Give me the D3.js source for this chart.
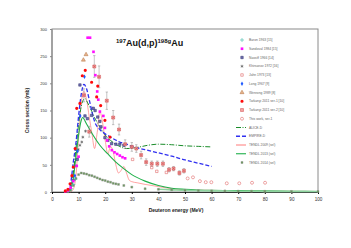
<!DOCTYPE html>
<html>
<head>
<meta charset="utf-8">
<script src="https://cdn.jsdelivr.net/npm/d3@7"></script>
<style>
  html, body { margin: 0; padding: 0; background: #fff; }
  svg { display: block; font-family: Arial, "Liberation Sans", sans-serif; }
</style>
</head>
<body>
<div id="chart"></div>
<script>
// experimental data [energy MeV, cross section mb]
const baron = [[7.2, 6], [8.0, 14], [8.8, 24]];
const sandoval = [[5, 1], [6, 3], [7, 8], [8, 20], [9.3, 48], [10, 65], [13.4, 284], [14.3, 284], [15.6, 258],
  [16.3, 215], [17.0, 185], [17.4, 170], [18.0, 148], [19.3, 140], [19.9, 118], [20.7, 95], [21.5, 84],
  [22.5, 77], [23.5, 73], [24.5, 70], [25.5, 67], [26.5, 64], [27.5, 62]];
const nassiff = [[9.5, 60], [10.5, 197], [12.4, 140], [13.3, 135], [14.9, 141], [15.5, 154], [16.2, 150],
  [17.2, 138], [18.0, 130], [18.4, 120], [19.9, 100], [21.0, 95], [22.4, 89], [24.0, 88], [25.5, 88],
  [27.0, 86], [30.0, 83]];
const khirsanov = [[8.2, 22], [9.0, 48], [9.9, 78], [10.5, 86], [11.2, 92], [11.6, 101], [12.6, 112]];
const jahn = [[30.3, 60], [37.5, 45], [39.4, 38], [43.0, 36]];
const longData = [[8.6, 30], [9.6, 75], [10.6, 140], [12.2, 212]];
const wenrong = [[11.8, 243], [12.8, 253]];
const tarkanyi1 = [[5, 2], [6, 5], [6.8, 15], [7.5, 30], [8.0, 46], [8.7, 80], [9.3, 154], [10.5, 163],
  [11.4, 214], [12.5, 224], [14.9, 202], [16.8, 175], [17.2, 195], [18.3, 159], [19.9, 132], [21.8, 101]];
const tarkanyi2 = [[12.0, 178], [14.0, 111], [15.9, 231], [17.7, 212], [20.6, 168], [23.0, 137], [25.2, 115],
  [27.5, 88], [30.0, 83], [31.7, 80], [33.5, 68], [35.4, 55], [37.5, 52], [39.6, 52], [41.7, 52],
  [44.0, 41], [45.7, 43], [47.9, 35], [49.6, 39]];
const tarkanyi2Err = [12, 10, 20, 20, 16, 13, 10, 8, 8, 7, 7, 6, 5, 5, 5, 4, 4, 4, 4];
const thisWork = [[51.0, 25], [53.0, 27], [55.6, 20], [57.8, 18], [59.9, 18], [65.7, 16], [70.4, 16],
  [75.2, 17], [80.1, 17]];

// model curves
const alice = [[6, 0], [7, 8], [8, 35], [9, 80], [10, 125], [11, 158], [12, 171], [12.5, 172], [13, 168],
  [14, 158], [15, 148], [16, 137], [18, 120], [20, 105], [22, 95], [25, 85], [28, 80], [32, 82],
  [36, 86], [40, 88], [45, 87], [50, 85], [55, 84], [60, 83]];
const empire = [[6, 0], [7, 15], [8, 55], [9, 90], [10, 140], [11, 180], [12, 198], [13, 190], [14, 170],
  [15, 148], [16, 130], [18, 115], [20, 107], [22, 101], [25, 93], [28, 88], [30, 84], [35, 78],
  [40, 72], [45, 66], [50, 59], [55, 53], [60, 47]];
const tendl2009 = [[7, 0], [8, 5], [9, 30], [10, 100], [11, 165], [12, 185], [13, 170], [14, 138], [15, 108],
  [16, 80], [17, 110], [18, 148], [19, 128], [20, 95], [21, 70], [22, 84], [23, 74], [24, 50], [25, 35],
  [26, 40], [27, 47], [28, 35], [29, 22], [30, 19], [32, 17], [35, 14], [40, 10], [45, 6], [50, 4],
  [60, 3], [70, 2], [80, 1.5], [100, 1]];
const tendl2013 = [[6, 0], [7, 5], [8, 25], [9, 65], [10, 105], [11, 132], [11.5, 137], [13, 125], [15, 108],
  [18, 86], [21, 70], [24, 55], [27, 43], [30, 32], [35, 20], [40, 12], [45, 7], [50, 5], [60, 3],
  [70, 2.5], [80, 2], [90, 1.5], [100, 1]];
const tendl2014 = [[6, 0.5], [7, 3], [8, 12], [9, 25], [10, 32], [11, 35], [12, 34], [13, 33], [14, 31],
  [15, 30], [16, 28], [17, 26], [18, 24], [19, 22], [20, 21], [21, 19], [22, 18], [23, 16], [24, 15],
  [25, 14], [27, 12], [30, 9], [35, 6], [40, 5], [45, 4], [50, 3], [55, 2.5], [60, 2], [65, 2],
  [70, 1.5], [75, 1.5], [80, 1.2], [90, 1], [100, 0.8]];

const xTicks = [0, 10, 20, 30, 40, 50, 60, 70, 80, 90, 100];
const yTicks = [0, 50, 100, 150, 200, 250, 300];

const legendLabels = ['Baron 1963 [15]', 'Sandoval 1984 [15]', 'Nassiff 1966 [14]', 'Khirsanov 1972 [16]',
  'Jahn 1973 [13]', 'Long 1967 [9]', 'Wenrong 1989 [8]', 'Tarkanyi 2011 ser-1 [10]',
  'Tarkanyi 2011 ser-2 [10]', 'This work, ser-1', 'ALICE-D', 'EMPIRE-D', 'TENDL 2009 (sel)',
  'TENDL 2013 (sel)', 'TENDL 2014 (sel)'];

const width = 351, height = 248;
const margin = { left: 52, right: 33, top: 29, bottom: 56 };

const svg = d3.select('#chart').append('svg')
  .attr('width', width)
  .attr('height', height);

const x = d3.scaleLinear().domain([0, 100]).range([margin.left, width - margin.right]);
const y = d3.scaleLinear().domain([0, 300]).range([height - margin.bottom, margin.top]);

// frame
svg.append('rect')
  .attr('x', x(0)).attr('y', y(300))
  .attr('width', x(100) - x(0)).attr('height', y(0) - y(300))
  .attr('fill', 'none').attr('stroke', '#8a8a8a').attr('stroke-width', 1);
svg.append('line')
  .attr('x1', x(0)).attr('x2', x(0)).attr('y1', y(300)).attr('y2', y(0))
  .attr('stroke', '#9a9a9a').attr('stroke-width', 1.6);

// axes
const xAxis = svg.append('g')
  .attr('transform', `translate(0,${y(0)})`)
  .call(d3.axisBottom(x).tickValues(xTicks).tickSize(2).tickPadding(4));
xAxis.select('.domain').attr('stroke', '#333').attr('stroke-width', 1);
xAxis.selectAll('text').attr('font-size', '4.6px').attr('fill', '#333');

const yAxis = svg.append('g')
  .attr('transform', `translate(${x(0)},0)`)
  .call(d3.axisLeft(y).tickValues(yTicks).tickSize(2).tickPadding(3));
yAxis.select('.domain').remove();
yAxis.selectAll('line').attr('stroke', '#888');
yAxis.selectAll('text').attr('font-size', '4px').attr('fill', '#333');

// axis titles
svg.append('text')
  .attr('x', 176).attr('y', 212)
  .attr('text-anchor', 'middle')
  .attr('font-size', '5px').attr('font-weight', 'bold').attr('fill', '#222')
  .text('Deuteron energy (MeV)');
svg.append('text')
  .attr('transform', `translate(29,${(y(0) + y(300)) / 2}) rotate(-90)`)
  .attr('text-anchor', 'middle')
  .attr('font-size', '5px').attr('font-weight', 'bold').attr('fill', '#222')
  .text('Cross section (mb)');

// title
const title = svg.append('text')
  .attr('x', 116).attr('y', 46)
  .attr('font-size', '9px').attr('font-weight', 'bold').attr('fill', '#111');
title.append('tspan').attr('font-size', '6px').attr('dy', -3.5).text('197');
title.append('tspan').attr('dy', 3.5).text('Au(d,p)');
title.append('tspan').attr('font-size', '6px').attr('dy', -3.5).text('198g');
title.append('tspan').attr('dy', 3.5).text('Au');

const line = d3.line().x(d => x(d[0])).y(d => y(d[1])).curve(d3.curveMonotoneX);

// model curves
const curves = [
  { data: tendl2014, color: '#8fcf9a', width: 2.2, dash: null, skip: true },
  { data: tendl2009, color: '#ff7b7b', width: 0.7, dash: null },
  { data: tendl2013, color: '#1fb04a', width: 1.1, dash: null },
  { data: alice, color: '#1a8c2a', width: 1, dash: '5,1.5,1,1.5' },
  { data: empire, color: '#3030f0', width: 1.3, dash: '4,2' }
];
curves.filter(c => !c.skip).forEach(c => {
  svg.append('path')
    .datum(c.data)
    .attr('d', line)
    .attr('fill', 'none')
    .attr('stroke', c.color)
    .attr('stroke-width', c.width)
    .attr('stroke-dasharray', c.dash);
});

// marker styles
const sym = (type, size) => d3.symbol().type(type).size(size)();
const styles = {
  baron: { type: d3.symbolPlus, size: 6, fill: 'none', stroke: '#3cb8a8', sw: 0.6 },
  sandoval: { type: d3.symbolSquare, size: 7, fill: '#ff10ff', stroke: 'none', sw: 0 },
  nassiff: { type: d3.symbolSquare, size: 6, fill: '#7070b0', stroke: '#2a2a6a', sw: 0.5 },
  khirsanov: { type: d3.symbolAsterisk, size: 6, fill: 'none', stroke: '#555', sw: 0.6 },
  jahn: { type: d3.symbolSquare, size: 6, fill: 'none', stroke: '#e06a6a', sw: 0.6 },
  longData: { type: d3.symbolDiamond, size: 6, fill: '#1e5aff', stroke: 'none', sw: 0 },
  wenrong: { type: d3.symbolTriangle, size: 7, fill: '#e8b48c', stroke: '#b07040', sw: 0.5 },
  tarkanyi1: { type: d3.symbolCircle, size: 8, fill: '#ff0a0a', stroke: 'none', sw: 0 },
  tarkanyi2: { type: d3.symbolSquare, size: 9, fill: '#f4a0a0', stroke: '#d05050', sw: 0.5 },
  thisWork: { type: d3.symbolCircle, size: 7, fill: 'none', stroke: '#e06a6a', sw: 0.6 },
  tendl2014: { type: d3.symbolSquare, size: 4, fill: '#6a9a5a', stroke: '#909090', sw: 0.4 }
};

// TENDL 2014 drawn as a light band with point markers
svg.append('path')
  .datum(tendl2014.filter(d => d[0] >= 40))
  .attr('d', line)
  .attr('fill', 'none').attr('stroke', '#8fd4a0').attr('stroke-width', 1.6);

function drawPoints(data, st) {
  svg.append('g').selectAll('path')
    .data(data)
    .join('path')
    .attr('transform', d => `translate(${x(d[0])},${y(d[1])})`)
    .attr('d', sym(st.type, st.size))
    .attr('fill', st.fill)
    .attr('stroke', st.stroke)
    .attr('stroke-width', st.sw);
}

// error bars for Tarkanyi ser-2
const errG = svg.append('g').attr('stroke', '#8a8a8a').attr('stroke-width', 0.5);
tarkanyi2.forEach((d, i) => {
  const e = tarkanyi2Err[i];
  errG.append('line').attr('x1', x(d[0])).attr('x2', x(d[0])).attr('y1', y(d[1] - e)).attr('y2', y(d[1] + e));
  errG.append('line').attr('x1', x(d[0]) - 1.2).attr('x2', x(d[0]) + 1.2).attr('y1', y(d[1] - e)).attr('y2', y(d[1] - e));
  errG.append('line').attr('x1', x(d[0]) - 1.2).attr('x2', x(d[0]) + 1.2).attr('y1', y(d[1] + e)).attr('y2', y(d[1] + e));
});

drawPoints(tendl2014, styles.tendl2014);
drawPoints(jahn, styles.jahn);
drawPoints(thisWork, styles.thisWork);
drawPoints(baron, styles.baron);
drawPoints(khirsanov, styles.khirsanov);
drawPoints(nassiff, styles.nassiff);
drawPoints(sandoval, styles.sandoval);
drawPoints(longData, styles.longData);
drawPoints(wenrong, styles.wenrong);
drawPoints(tarkanyi2, styles.tarkanyi2);
// small x inside ser-2 squares
svg.append('g').selectAll('path')
  .data(tarkanyi2)
  .join('path')
  .attr('transform', d => `translate(${x(d[0])},${y(d[1])})`)
  .attr('d', sym(d3.symbolTimes, 4))
  .attr('fill', 'none').attr('stroke', '#c03030').attr('stroke-width', 0.4);
drawPoints(tarkanyi1, styles.tarkanyi1);

// legend
const legendItems = [
  { kind: 'pt', st: styles.baron }, { kind: 'pt', st: styles.sandoval }, { kind: 'pt', st: styles.nassiff },
  { kind: 'pt', st: styles.khirsanov }, { kind: 'pt', st: styles.jahn }, { kind: 'pt', st: styles.longData },
  { kind: 'pt', st: styles.wenrong }, { kind: 'pt', st: styles.tarkanyi1 }, { kind: 'pt', st: styles.tarkanyi2 },
  { kind: 'pt', st: styles.thisWork },
  { kind: 'ln', c: curves[3] }, { kind: 'ln', c: curves[4] }, { kind: 'ln', c: curves[1] },
  { kind: 'ln', c: curves[2] }, { kind: 'pt', st: styles.tendl2014 }
];
const legend = svg.append('g');
legendItems.forEach((item, i) => {
  const ly = 40 + i * 8.75;
  if (item.kind === 'pt') {
    legend.append('path')
      .attr('transform', `translate(242,${ly})`)
      .attr('d', sym(item.st.type, item.st.size))
      .attr('fill', item.st.fill).attr('stroke', item.st.stroke).attr('stroke-width', item.st.sw);
  } else {
    legend.append('line')
      .attr('x1', 236).attr('x2', 246).attr('y1', ly).attr('y2', ly)
      .attr('stroke', item.c.color).attr('stroke-width', Math.max(item.c.width, 1))
      .attr('stroke-dasharray', item.c.dash);
  }
  legend.append('text')
    .attr('x', 249).attr('y', ly + 1.1)
    .attr('font-size', '3.3px').attr('fill', '#666')
    .text(legendLabels[i]);
});
</script>
</body>
</html>
